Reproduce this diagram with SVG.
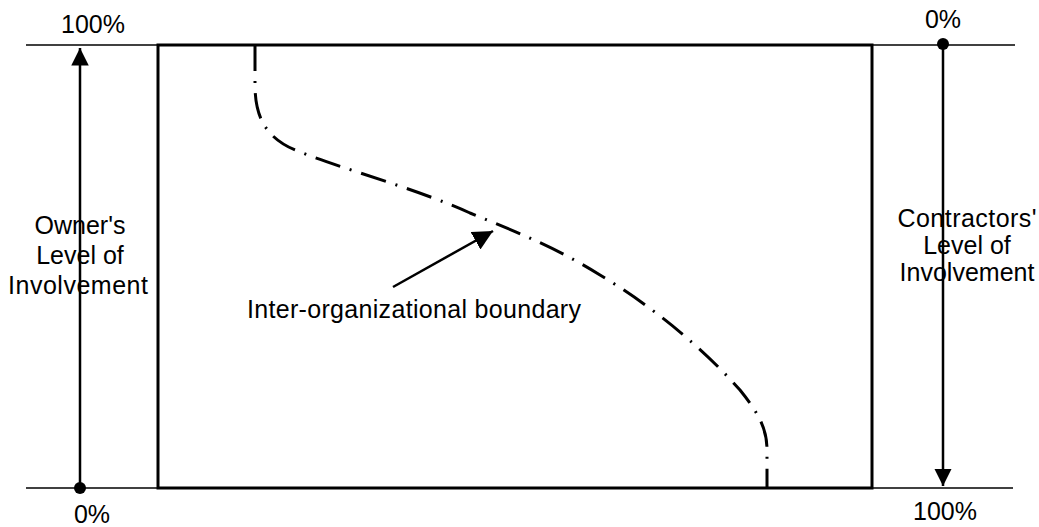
<svg xmlns="http://www.w3.org/2000/svg" width="1039" height="527" viewBox="0 0 1039 527">
<style>
text{font-family:"Liberation Sans",Arial,sans-serif;font-size:25px;fill:#000;text-anchor:middle}
.thin{stroke:#000;stroke-width:1.6;fill:none}
.box{stroke:#000;stroke-width:3;fill:none}
.arr{stroke:#000;stroke-width:2.5;fill:none}
.bound{stroke:#000;stroke-width:3;fill:none;stroke-dasharray:26 10 2 10}
</style>
<defs>
<marker id="head" viewBox="0 0 10 10" refX="10" refY="5" markerWidth="7" markerHeight="7" markerUnits="strokeWidth" orient="auto">
<path d="M0,0 L10,5 L0,10 z" fill="#000"/>
</marker>
<marker id="headS" viewBox="0 0 10 10" refX="10" refY="5" markerWidth="8" markerHeight="8" markerUnits="strokeWidth" orient="auto">
<path d="M0,0 L10,5 L0,10 z" fill="#000"/>
</marker>
</defs>
<g id="axes">
<line class="thin" x1="26" y1="45" x2="1015" y2="45"/>
<line class="thin" x1="26" y1="488" x2="1013" y2="488"/>
</g>
<g id="frame">
<rect class="box" x="158" y="45" width="714" height="443"/>
</g>
<g id="connectors">
<line class="arr" x1="80" y1="488" x2="80" y2="48" marker-end="url(#head)"/>
<circle cx="80" cy="488" r="6" fill="#000"/>
<line class="arr" x1="943" y1="44" x2="943" y2="486" marker-end="url(#head)"/>
<circle cx="943" cy="44" r="6" fill="#000"/>
<line class="arr" x1="393" y1="287" x2="493" y2="231" marker-end="url(#headS)"/>
</g>
<g id="boundary">
<path class="bound" d="M255,45 L255,85 C255,120 268,140 300,152 C340,168 420,190 470,213 C520,233 560,250 600,275 C650,305 700,345 740,390 C760,415 767,430 767,450 L767,488"/>
</g>
<g id="labels">
<text x="93" y="33">100%</text>
<text x="943" y="28">0%</text>
<text x="92" y="523">0%</text>
<text x="945" y="520">100%</text>
<text x="80" y="234">Owner's</text>
<text x="80" y="264">Level of</text>
<text x="78" y="294" textLength="140">Involvement</text>
<text x="967" y="227" textLength="139">Contractors'</text>
<text x="967" y="254">Level of</text>
<text x="967" y="281">Involvement</text>
<text x="414" y="318" textLength="334">Inter-organizational boundary</text>
</g>
</svg>
